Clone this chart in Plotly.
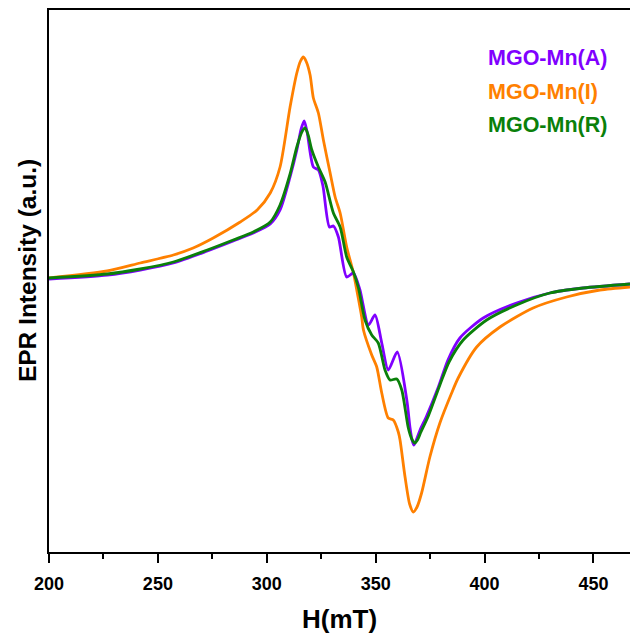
import plotly.graph_objects as go

# Series names and colours
names = ["MGO-Mn(A)", "MGO-Mn(I)", "MGO-Mn(R)"]
colors = ["#8000ff", "#ff8000", "#0a800a"]

# Magnetic field (mT) and EPR intensity (a.u.)
field_A = [200, 226.8, 241.9, 257.1, 272.7, 284.6, 293.8, 301.6, 306.1, 310.7, 313.8,
           315.8, 317.2, 318.6, 321.4, 323.7, 325.8, 328.8, 330.6, 332.9, 336.7, 339.8, 342.8,
           343.8, 346.7, 349.7, 352.8, 355.8, 359.9, 364.3, 365.8, 366.7, 367.5, 368.5, 370.4, 373.4, 378.8,
           383.2, 388.7, 399.4, 414.7, 430.0, 445.3, 466.8]
inten_A = [-1, 3, 8, 15, 27, 37, 45, 54, 68, 101, 128,
           149, 157, 145, 111, 108, 92, 51, 52, 41, 1, 5, -12,
           -22, -47, -37, -65, -92, -74, -122, -150, -162, -167, -163, -152, -138, -109,
           -82, -60, -40, -25, -15, -10, -6]

field_I = [200, 226.7, 241.9, 257.1, 266.2, 275.4, 287.8, 295.6, 301.6, 306.1, 310.7, 313.8,
           315.5, 316.8, 318.2, 319.9, 321.4, 323.7, 326.0, 329.1, 331.4, 333.7, 336.7, 339.8, 341.5, 343.6,
           344.4, 348.2, 350.5, 352.8, 355.8, 358.1, 360.4, 361.2, 363.5, 365.6, 367.3, 369.0, 371.1, 374.9,
           379.5, 384.9, 387.9, 396.4, 407.1, 422.3, 437.7, 453.0, 466.8]
inten_I = [0, 7, 15, 23, 30, 40, 56, 68, 85, 111, 171, 205,
           217, 221, 216, 203, 180, 165, 138, 105, 81, 65, 31, 5, -14, -39,
           -52, -77, -89, -115, -140, -142, -154, -162, -199, -226, -234, -229, -215, -179,
           -145, -115, -100, -69, -49, -30, -19, -12, -9]

field_R = [200, 226.8, 241.9, 257.1, 272.7, 284.6, 293.8, 301.6, 306.1, 310.7, 313.8,
           316.1, 317.6, 319.0, 320.7, 323.7, 326.8, 330.6, 333.7, 336.7, 339.8, 342.1, 345.1, 348.2,
           351.2, 354.3, 356.6, 359.7, 362.0, 365.0, 366.6, 368.0, 369.2, 370.8, 374.2, 379.5, 383.7, 390.2,
           401.0, 414.7, 430.0, 445.3, 466.8]
inten_R = [0, 4, 9, 16, 28, 38, 46, 56, 73, 104, 131,
           146, 150, 143, 128, 111, 96, 65, 51, 21, 6, -10, -42, -57,
           -65, -92, -102, -101, -112, -150, -161, -165, -162, -154, -138, -107, -84, -62,
           -42, -27, -15, -10, -6]

x_ticks = [200, 250, 300, 350, 400, 450]
x_tick_labels = ["200", "250", "300", "350", "400", "450"]
x_title = "H(mT)"
y_title = "EPR Intensity (a.u.)"

series = {"MGO-Mn(A)": (field_A, inten_A), "MGO-Mn(I)": (field_I, inten_I), "MGO-Mn(R)": (field_R, inten_R)}
col_of = dict(zip(names, colors))

FONT = "Liberation Sans, Arial, sans-serif"

fig = go.Figure()
for name in ["MGO-Mn(I)", "MGO-Mn(A)", "MGO-Mn(R)"]:
    xs, ys = series[name]
    fig.add_trace(go.Scatter(x=xs, y=ys, mode="lines", name=name,
                             line=dict(color=col_of[name], width=2.8, shape="spline", smoothing=0.7)))

for i, (name, col) in enumerate(zip(names, colors)):
    fig.add_annotation(x=0.752, y=0.911 - i * 0.062, xref="paper", yref="paper",
                       text="<b>%s</b>" % name, showarrow=False, xanchor="left", yanchor="middle",
                       font=dict(family=FONT, size=21.5, color=col))

fig.add_annotation(x=0.5, y=-0.124, xref="paper", yref="paper", text="<b>%s</b>" % x_title,
                   showarrow=False, xanchor="center", yanchor="middle",
                   font=dict(family=FONT, size=26, color="black"))
fig.add_annotation(x=-0.038, y=0.52, xref="paper", yref="paper", text="<b>%s</b>" % y_title,
                   showarrow=False, xanchor="center", yanchor="middle", textangle=-90,
                   font=dict(family=FONT, size=24.5, color="black"))

fig.update_layout(
    width=630, height=635,
    margin=dict(l=49, r=0, t=10, b=83, autoexpand=False),
    paper_bgcolor="white", plot_bgcolor="white",
    showlegend=False,
    font=dict(family=FONT, color="black"),
)
fig.update_xaxes(
    range=[200, 466.8], tickvals=x_ticks, ticktext=["<b>%s</b>" % t for t in x_tick_labels],
    ticks="outside", ticklen=9, tickwidth=2, tickcolor="black",
    showline=True, linewidth=2, linecolor="black", mirror=True,
    showgrid=False, zeroline=False, automargin=False,
    tickfont=dict(family=FONT, size=18, color="black"), ticklabelstandoff=5,
    minor=dict(ticks="outside", ticklen=5, tickwidth=2, tickcolor="black", dtick=25, tick0=200, showgrid=False),
)
fig.update_yaxes(
    range=[-274, 268], showticklabels=False, ticks="",
    showline=True, linewidth=2, linecolor="black",
    showgrid=False, zeroline=False, automargin=False,
)

fig.write_html(
    "out.html",
    config={"displayModeBar": False},
    post_script="document.documentElement.style.overflow='hidden';"
                "document.body.style.margin='0';document.body.style.overflow='hidden';",
)
